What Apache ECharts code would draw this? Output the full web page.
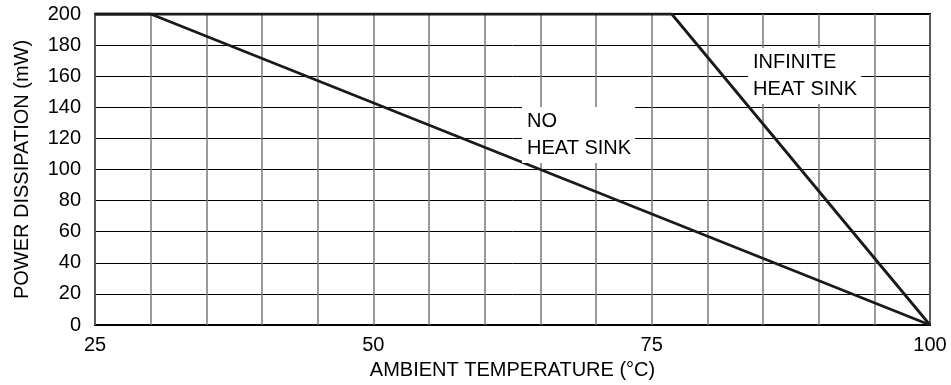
<!DOCTYPE html>
<html><head><meta charset="utf-8">
<script src="https://cdn.jsdelivr.net/npm/echarts@6/dist/echarts.min.js"></script>
<style>html,body{margin:0;padding:0;background:#fff}#c{width:951px;height:385px}</style>
</head><body><div id="c"></div>
<script>
var xTicks = [25, 50, 75, 100];
var yTicks = [0, 20, 40, 60, 80, 100, 120, 140, 160, 180, 200];
var noHeatSink = [[25, 200], [30, 200], [100, 0]];
var infiniteHeatSink = [[25, 200], [76.8, 200], [100, 0]];
var labels = [
  {name: 'NO\nHEAT SINK', x: 522, y: 107},
  {name: 'INFINITE\nHEAT SINK', x: 748, y: 48}
];
var font = '"Liberation Sans", Arial, sans-serif';
var chart = echarts.init(document.getElementById('c'));
chart.setOption({
  backgroundColor: '#fff',
  animation: false,
  grid: {left: 95, right: 21, top: 14, bottom: 60, show: true, borderColor: '#000', borderWidth: 2},
  xAxis: {
    type: 'value', min: 25, max: 100, interval: 5,
    name: 'AMBIENT TEMPERATURE (°C)', nameLocation: 'middle', nameGap: 35,
    nameTextStyle: {fontFamily: font, fontSize: 20, color: '#000'},
    axisLine: {show: false}, axisTick: {show: false},
    axisLabel: {fontFamily: font, fontSize: 20, color: '#000', margin: 10,
      formatter: function (v) { return xTicks.indexOf(v) >= 0 ? String(v) : ''; }},
    splitLine: {show: true, lineStyle: {color: '#7a7a7a', width: 1.5}}
  },
  yAxis: {
    type: 'value', min: 0, max: 200, interval: 20,
    name: 'POWER DISSIPATION (mW)', nameLocation: 'middle', nameGap: 63,
    nameTextStyle: {fontFamily: font, fontSize: 20, color: '#000'},
    axisLine: {show: false}, axisTick: {show: false},
    axisLabel: {fontFamily: font, fontSize: 20, color: '#000', margin: 14,
      formatter: function (v) { return yTicks.indexOf(v) >= 0 ? String(v) : ''; }},
    splitLine: {show: true, lineStyle: {color: '#000', width: 1}}
  },
  graphic: labels.map(function (l) {
    return {type: 'text', left: l.x, top: l.y, z: 100,
      style: {text: l.name, font: '20px ' + font, fill: '#000', lineHeight: 27,
        backgroundColor: '#fff', padding: [1, 4, 1, 5]}};
  }),
  series: [
    {type: 'line', data: noHeatSink, symbol: 'none', lineStyle: {color: '#1a1a1a', width: 2.8}, z: 10},
    {type: 'line', data: infiniteHeatSink, symbol: 'none', lineStyle: {color: '#1a1a1a', width: 2.8}, z: 10}
  ]
});
</script></body></html>
